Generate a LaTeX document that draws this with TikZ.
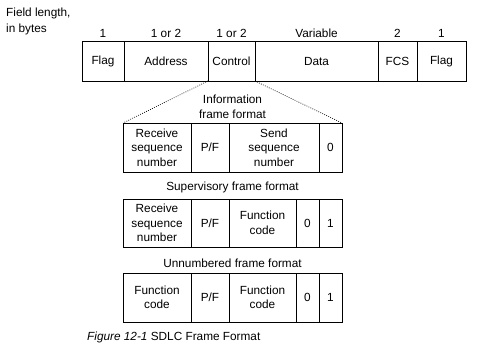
\documentclass[tikz,border=0pt]{standalone}
\usepackage{fontspec}
\setmainfont{Liberation Sans}
\usetikzlibrary{positioning}
\begin{document}
\begin{tikzpicture}[x=1pt, y=-1pt,
  cell/.style={draw, line width=0.9pt, inner sep=0pt, outer sep=0pt, align=center,
    font=\fontsize{11.8}{14.5}\selectfont},
  lbl/.style={inner sep=0pt, align=center, font=\fontsize{11.8}{14.5}\selectfont},
  size/.style={lbl, text height=8.5pt, text depth=0pt, above=3.5pt of #1},
  zoomline/.style={line width=0.7pt, dash pattern=on 0.8pt off 1.4pt},
]
  \useasboundingbox (0,0) rectangle (480,361);

  % main frame
  \node[lbl, align=left, anchor=north west] (fieldlen) at (6,8) {Field length,\\[1.5pt]in bytes};
  \node[cell, minimum width=42pt, minimum height=40pt, anchor=north west] (flagA) at (82,41) {Flag};
  \node[cell, minimum width=84pt, minimum height=40pt, right=0pt of flagA] (addr) {Address};
  \node[cell, minimum width=47pt, minimum height=40pt, right=0pt of addr] (ctrl) {Control};
  \node[cell, minimum width=123pt, minimum height=40pt, right=0pt of ctrl] (data) {Data};
  \node[cell, minimum width=39pt, minimum height=40pt, right=0pt of data] (fcs) {FCS};
  \node[cell, minimum width=49pt, minimum height=40pt, right=0pt of fcs] (flagB) {Flag};

  \node[size=flagA] (lenA) {1};
  \node[size=addr] (lenB) {1 or 2};
  \node[size=ctrl] (lenC) {1 or 2};
  \node[size=data] (lenD) {Variable};
  \node[size=fcs] (lenE) {2};
  \node[size=flagB] (lenF) {1};

  % information frame
  \node[lbl] (infoT) at (232.5,107) {Information\\frame format};
  \node[cell, minimum width=68pt, minimum height=49pt, anchor=north west] (recvI) at (123,123) {Receive\\sequence\\number};
  \node[cell, minimum width=38pt, minimum height=49pt, right=0pt of recvI] (pfI) {P/F};
  \node[cell, minimum width=90pt, minimum height=49pt, right=0pt of pfI] (sendI) {Send\\sequence\\number};
  \node[cell, minimum width=23pt, minimum height=49pt, right=0pt of sendI] (zeroI) {0};

  \draw[zoomline] (ctrl.south west) -- (recvI.north west);
  \draw[zoomline] (ctrl.south east) -- (zeroI.north east);

  % supervisory frame
  \node[lbl] (supT) at (232.5,187) {Supervisory frame format};
  \node[cell, minimum width=68pt, minimum height=48pt, anchor=north west] (recvS) at (123,199) {Receive\\sequence\\number};
  \node[cell, minimum width=38pt, minimum height=48pt, right=0pt of recvS] (pfS) {P/F};
  \node[cell, minimum width=67pt, minimum height=48pt, right=0pt of pfS] (funcS) {Function\\code};
  \node[cell, minimum width=23pt, minimum height=48pt, right=0pt of funcS] (zeroS) {0};
  \node[cell, minimum width=23pt, minimum height=48pt, right=0pt of zeroS] (oneS) {1};

  % unnumbered frame
  \node[lbl] (unT) at (232.5,263) {Unnumbered frame format};
  \node[cell, minimum width=68pt, minimum height=49pt, anchor=north west] (funcU) at (123,273) {Function\\code};
  \node[cell, minimum width=38pt, minimum height=49pt, right=0pt of funcU] (pfU) {P/F};
  \node[cell, minimum width=67pt, minimum height=49pt, right=0pt of pfU] (funcV) {Function\\code};
  \node[cell, minimum width=23pt, minimum height=49pt, right=0pt of funcV] (zeroU) {0};
  \node[cell, minimum width=23pt, minimum height=49pt, right=0pt of zeroU] (oneU) {1};

  % caption
  \node[lbl, anchor=west] (caption) at (87,337) {\textit{Figure 12-1} SDLC Frame Format};
\end{tikzpicture}
\end{document}
